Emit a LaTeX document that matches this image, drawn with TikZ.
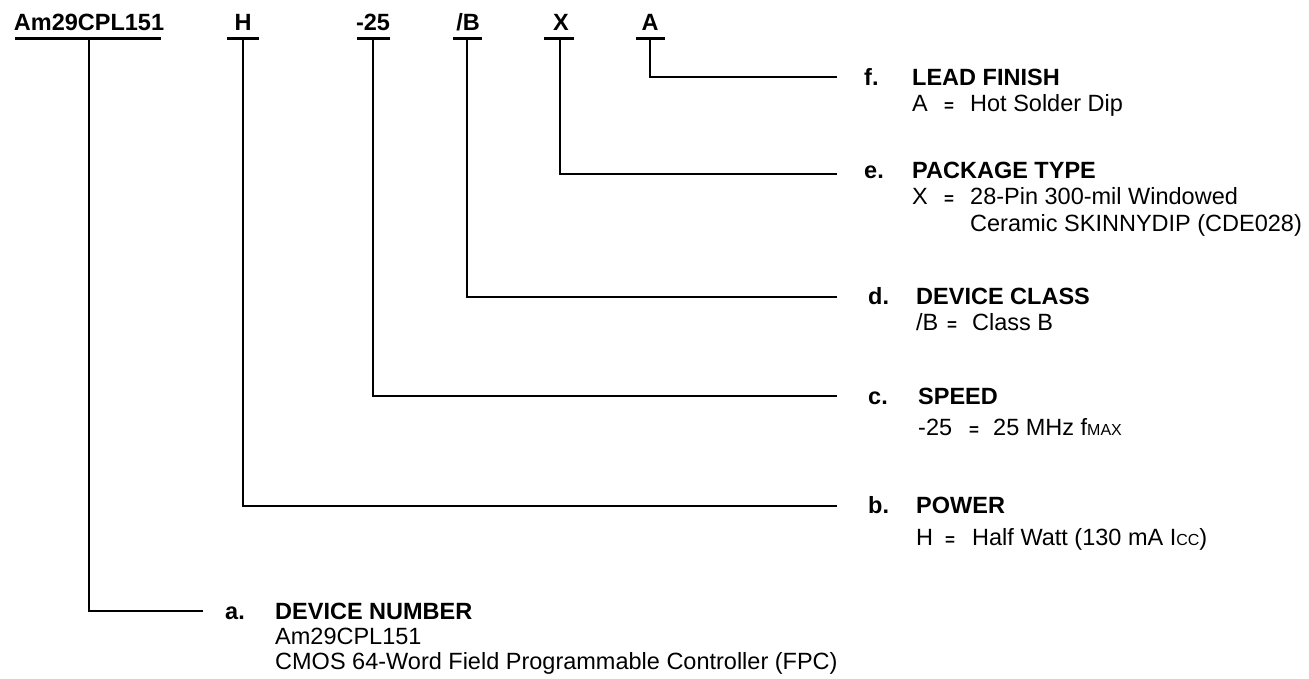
\documentclass[tikz,border=0pt]{standalone}
\usepackage{fontspec}
\setmainfont{Liberation Sans}
\newcommand{\smc}[1]{{\fontsize{16}{18}\selectfont #1}}
\tikzset{
  lbl/.style={inner sep=0pt, anchor=base west, font=\fontsize{23.5}{28}\selectfont},
  ttl/.style={inner sep=0pt, anchor=base west, font=\fontsize{23.5}{28}\selectfont\bfseries},
  eqs/.style={inner sep=0pt, anchor=base west, font=\fontsize{17}{20}\selectfont\bfseries},
  toplbl/.style={inner sep=0pt, anchor=base, font=\fontsize{23.5}{28}\selectfont\bfseries},
  conn/.style={line width=2.6pt},
  uline/.style={line width=3pt},
}
\begin{document}
\begin{tikzpicture}[x=1pt,y=-1pt]
\useasboundingbox (0,0) rectangle (1309,679);
% top code fields
\node[toplbl] (tAm) at (89,31) {Am29CPL151};
\node[toplbl] (tH) at (243,31) {H};
\node[toplbl] (t25) at (373,31) {-25};
\node[toplbl] (tB) at (468,31) {/B};
\node[toplbl] (tX) at (561,31) {X};
\node[toplbl] (tA) at (650,31) {A};
% underlines
\draw[uline] (15,39) -- (161,39);
\draw[uline] (227,39) -- (259,39);
\draw[uline] (357,39) -- (390,39);
\draw[uline] (453,39) -- (482,39);
\draw[uline] (544,39) -- (574,39);
\draw[uline] (636,39) -- (665,39);
% connector starts
\coordinate (uAm) at (89,39);
\coordinate (uH) at (243,39);
\coordinate (u25) at (373,39);
\coordinate (uB) at (467,39);
\coordinate (uX) at (560,39);
\coordinate (uA) at (650,39);
% connector ends
\coordinate (eA) at (837,77);
\coordinate (eX) at (837,174);
\coordinate (eB) at (837,297);
\coordinate (e25) at (837,396);
\coordinate (eH) at (837,506);
\coordinate (eAm) at (203,611);
\draw[conn] (uA) |- (eA);
\draw[conn] (uX) |- (eX);
\draw[conn] (uB) |- (eB);
\draw[conn] (u25) |- (e25);
\draw[conn] (uH) |- (eH);
\draw[conn] (uAm) |- (eAm);
% f
\node[ttl] (lf) at (864,86) {f.};
\node[ttl] (tf) at (912,86) {LEAD FINISH};
\node[lbl] (f1) at (912,112) {A};
\node[eqs] (f2) at (944,112) {=};
\node[lbl] (f3) at (970,112) {Hot Solder Dip};
% e
\node[ttl] (le) at (864,179) {e.};
\node[ttl] (te) at (912,179) {PACKAGE TYPE};
\node[lbl] (e1) at (912,205) {X};
\node[eqs] (e2) at (944,205) {=};
\node[lbl] (e3) at (970,205) {28-Pin 300-mil Windowed};
\node[lbl] (e4) at (970,232) {Ceramic SKINNYDIP (CDE028)};
% d
\node[ttl] (ld) at (868,304) {d.};
\node[ttl] (td) at (916,304) {DEVICE CLASS};
\node[lbl] (d1) at (916,330) {/B};
\node[eqs] (d2) at (947,330) {=};
\node[lbl] (d3) at (972,330) {Class B};
% c
\node[ttl] (lc) at (868,404) {c.};
\node[ttl] (tc) at (918,404) {SPEED};
\node[lbl] (c1) at (918,435) {-25};
\node[eqs] (c2) at (969,435) {=};
\node[lbl] (c3) at (993,435) {25 MHz f\smc{MAX}};
% b
\node[ttl] (lb) at (868,513) {b.};
\node[ttl] (tb) at (916,513) {POWER};
\node[lbl] (b1) at (916,545) {H};
\node[eqs] (b2) at (945,545) {=};
\node[lbl] (b3) at (972,545) {Half Watt (130 mA I\smc{CC})};
% a
\node[ttl] (la) at (225,619) {a.};
\node[ttl] (ta) at (275,619) {DEVICE NUMBER};
\node[lbl] (a1) at (275,644) {Am29CPL151};
\node[lbl] (a2) at (275,669) {CMOS 64-Word Field Programmable Controller (FPC)};
\end{tikzpicture}
\end{document}
